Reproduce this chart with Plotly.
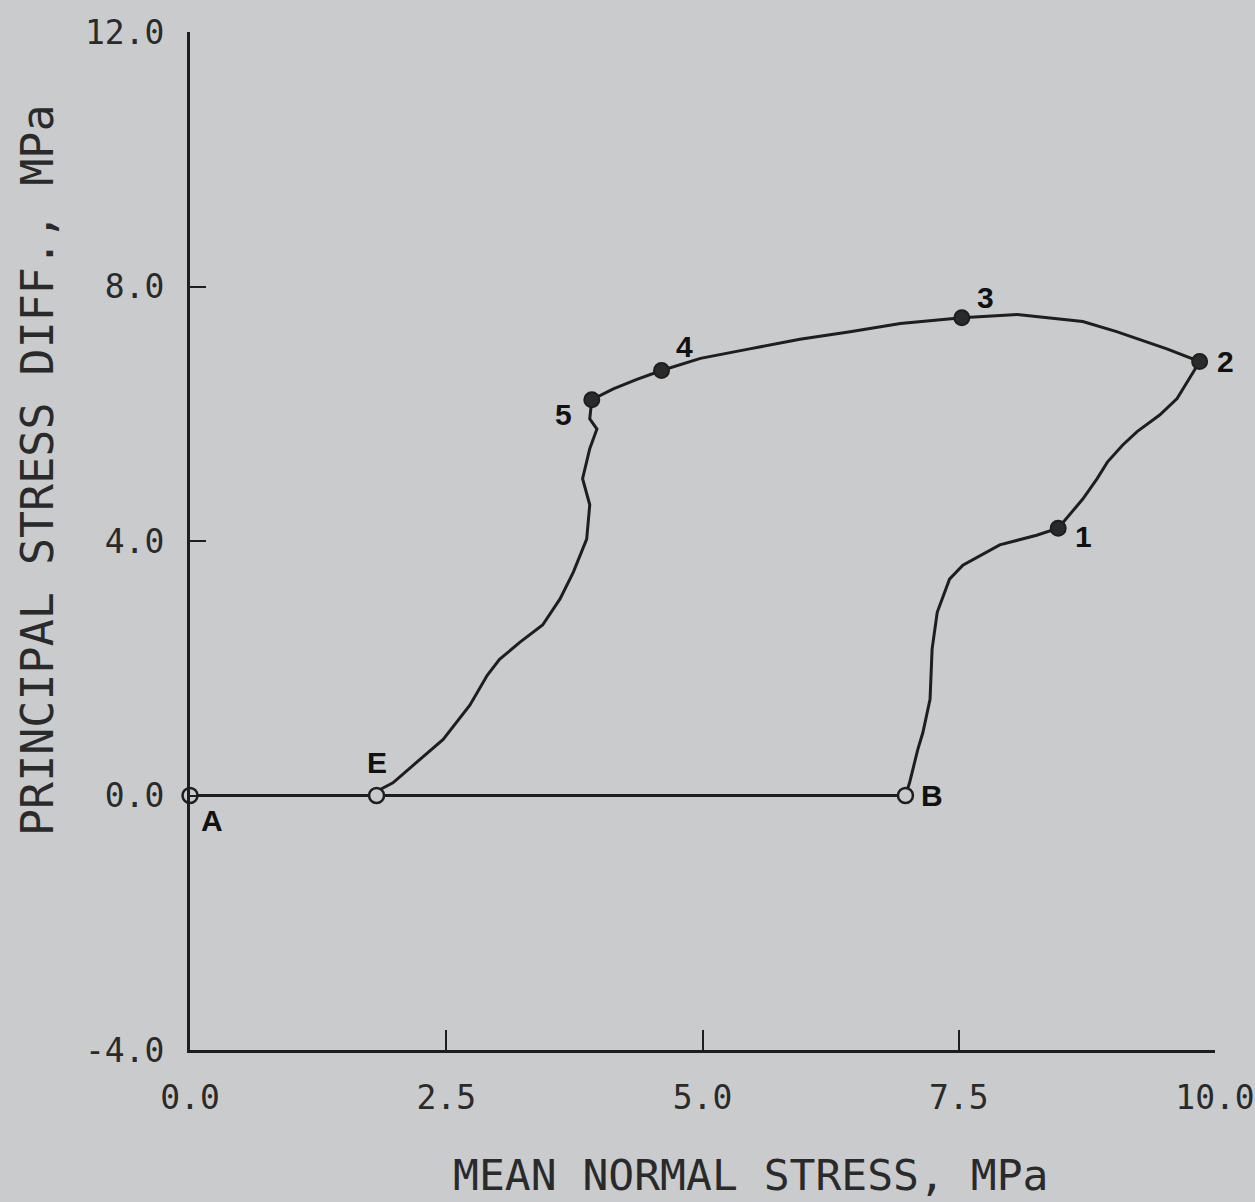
import plotly.graph_objects as go

# Stress path (mean normal stress, principal stress difference), MPa
path_x = [0.00, 1.82, 6.98, 7.02, 7.10, 7.15, 7.22, 7.24, 7.29, 7.41, 7.54, 7.90, 8.26,
          8.47, 8.71, 8.85, 8.95, 9.10, 9.24, 9.46, 9.63, 9.79,
          9.85, 9.53, 9.04, 8.71, 8.07,
          7.53, 6.93, 6.44, 5.95, 5.46, 4.98,
          4.60, 4.36, 4.13,
          3.92, 3.90, 3.97, 3.90, 3.83, 3.90, 3.87, 3.74, 3.61, 3.44, 3.22, 3.02, 2.90,
          2.73, 2.47, 2.21, 1.98, 1.85, 1.82]
path_y = [0.00, 0.00, 0.00, 0.20, 0.72, 0.99, 1.51, 2.30, 2.88, 3.40, 3.62, 3.94, 4.09,
          4.20, 4.66, 4.98, 5.24, 5.51, 5.72, 5.98, 6.24, 6.66,
          6.82, 7.02, 7.29, 7.45, 7.56,
          7.51, 7.42, 7.29, 7.17, 7.02, 6.87,
          6.68, 6.54, 6.39,
          6.22, 5.92, 5.76, 5.45, 4.98, 4.57, 4.03, 3.51, 3.09, 2.68, 2.41, 2.14, 1.89,
          1.42, 0.88, 0.52, 0.20, 0.09, 0.00]

open_labels = ["A", "E", "B"]
open_x = [0.00, 1.82, 6.98]
open_y = [0.00, 0.00, 0.00]

solid_labels = ["1", "2", "3", "4", "5"]
solid_x = [8.47, 9.85, 7.53, 4.60, 3.92]
solid_y = [4.20, 6.82, 7.51, 6.68, 6.22]

x_ticks = [0.0, 2.5, 5.0, 7.5, 10.0]
x_ticktext = ["0.0", "2.5", "5.0", "7.5", "10.0"]
y_ticks = [-4.0, 0.0, 4.0, 8.0, 12.0]
y_ticktext = ["-4.0", "0.0", "4.0", "8.0", "12.0"]

x_title = "MEAN NORMAL STRESS, MPa"
y_title = "PRINCIPAL STRESS DIFF., MPa"

BG = "#c9cbcc"
INK = "#1e1e1e"
TXT = "#2a2a2a"
MONO = "DejaVu Sans Mono"

fig = go.Figure()
fig.add_trace(go.Scatter(x=path_x, y=path_y, mode="lines",
                         line=dict(color=INK, width=3), cliponaxis=False,
                         showlegend=False, hoverinfo="skip"))
fig.add_trace(go.Scatter(x=open_x, y=open_y, mode="markers",
                         marker=dict(symbol="circle", size=15, color=BG,
                                     line=dict(color=INK, width=2.5)),
                         cliponaxis=False, showlegend=False))
fig.add_trace(go.Scatter(x=solid_x, y=solid_y, mode="markers",
                         marker=dict(symbol="circle", size=15, color="#2a2a2a",
                                     line=dict(color=INK, width=2)),
                         cliponaxis=False, showlegend=False))

# point labels (offsets in px)
offsets = {"A": (22, -25), "E": (0, 33), "B": (27, 0),
           "1": (25, -8), "2": (26, 0), "3": (24, 20), "4": (23, 24), "5": (-28, -15)}
lab_all = open_labels + solid_labels
x_all = open_x + solid_x
y_all = open_y + solid_y
for lab, xx, yy in zip(lab_all, x_all, y_all):
    dx, dy = offsets[lab]
    fig.add_annotation(x=xx, y=yy, text="<b>" + lab + "</b>", showarrow=False,
                       xshift=dx, yshift=dy,
                       font=dict(family="Liberation Sans", size=30, color="#111111"),
                       xanchor="center", yanchor="middle")

# axis titles
fig.add_annotation(xref="paper", yref="paper", x=0.5, y=0, xshift=48, yshift=-125,
                   text=x_title, showarrow=False, xanchor="center", yanchor="middle",
                   font=dict(family=MONO, size=43, color=TXT))
fig.add_annotation(xref="paper", yref="paper", x=0, y=0.5, xshift=-153, yshift=71,
                   text=y_title, textangle=-90, showarrow=False,
                   xanchor="center", yanchor="middle",
                   font=dict(family=MONO, size=45, color=TXT))

fig.update_layout(
    width=1255, height=1202, autosize=False,
    paper_bgcolor=BG, plot_bgcolor=BG,
    margin=dict(l=190, r=40, t=32, b=152),
    font=dict(family=MONO, color=TXT),
    xaxis=dict(range=[0, 10], tickvals=x_ticks, ticktext=x_ticktext, automargin=False,
               showgrid=False, zeroline=False, showline=True, linecolor=INK, linewidth=3,
               ticks="inside", ticklen=20, tickwidth=2, tickcolor=INK,
               tickfont=dict(family=MONO, size=33, color=TXT),
               ticklabelstandoff=16, ticklabeloverflow="allow"),
    yaxis=dict(range=[-4, 12], tickvals=y_ticks, ticktext=y_ticktext, automargin=False,
               showgrid=False, zeroline=False, showline=True, linecolor=INK, linewidth=3,
               ticks="inside", ticklen=16, tickwidth=2, tickcolor=INK,
               tickfont=dict(family=MONO, size=33, color=TXT),
               ticklabelstandoff=16, ticklabeloverflow="allow"),
)

fig.write_html("out.html",
               config={"displayModeBar": False, "responsive": False},
               post_script="document.body.style.margin='0px';"
                           "document.body.style.overflow='hidden';"
                           "document.body.style.background='" + BG + "';")
